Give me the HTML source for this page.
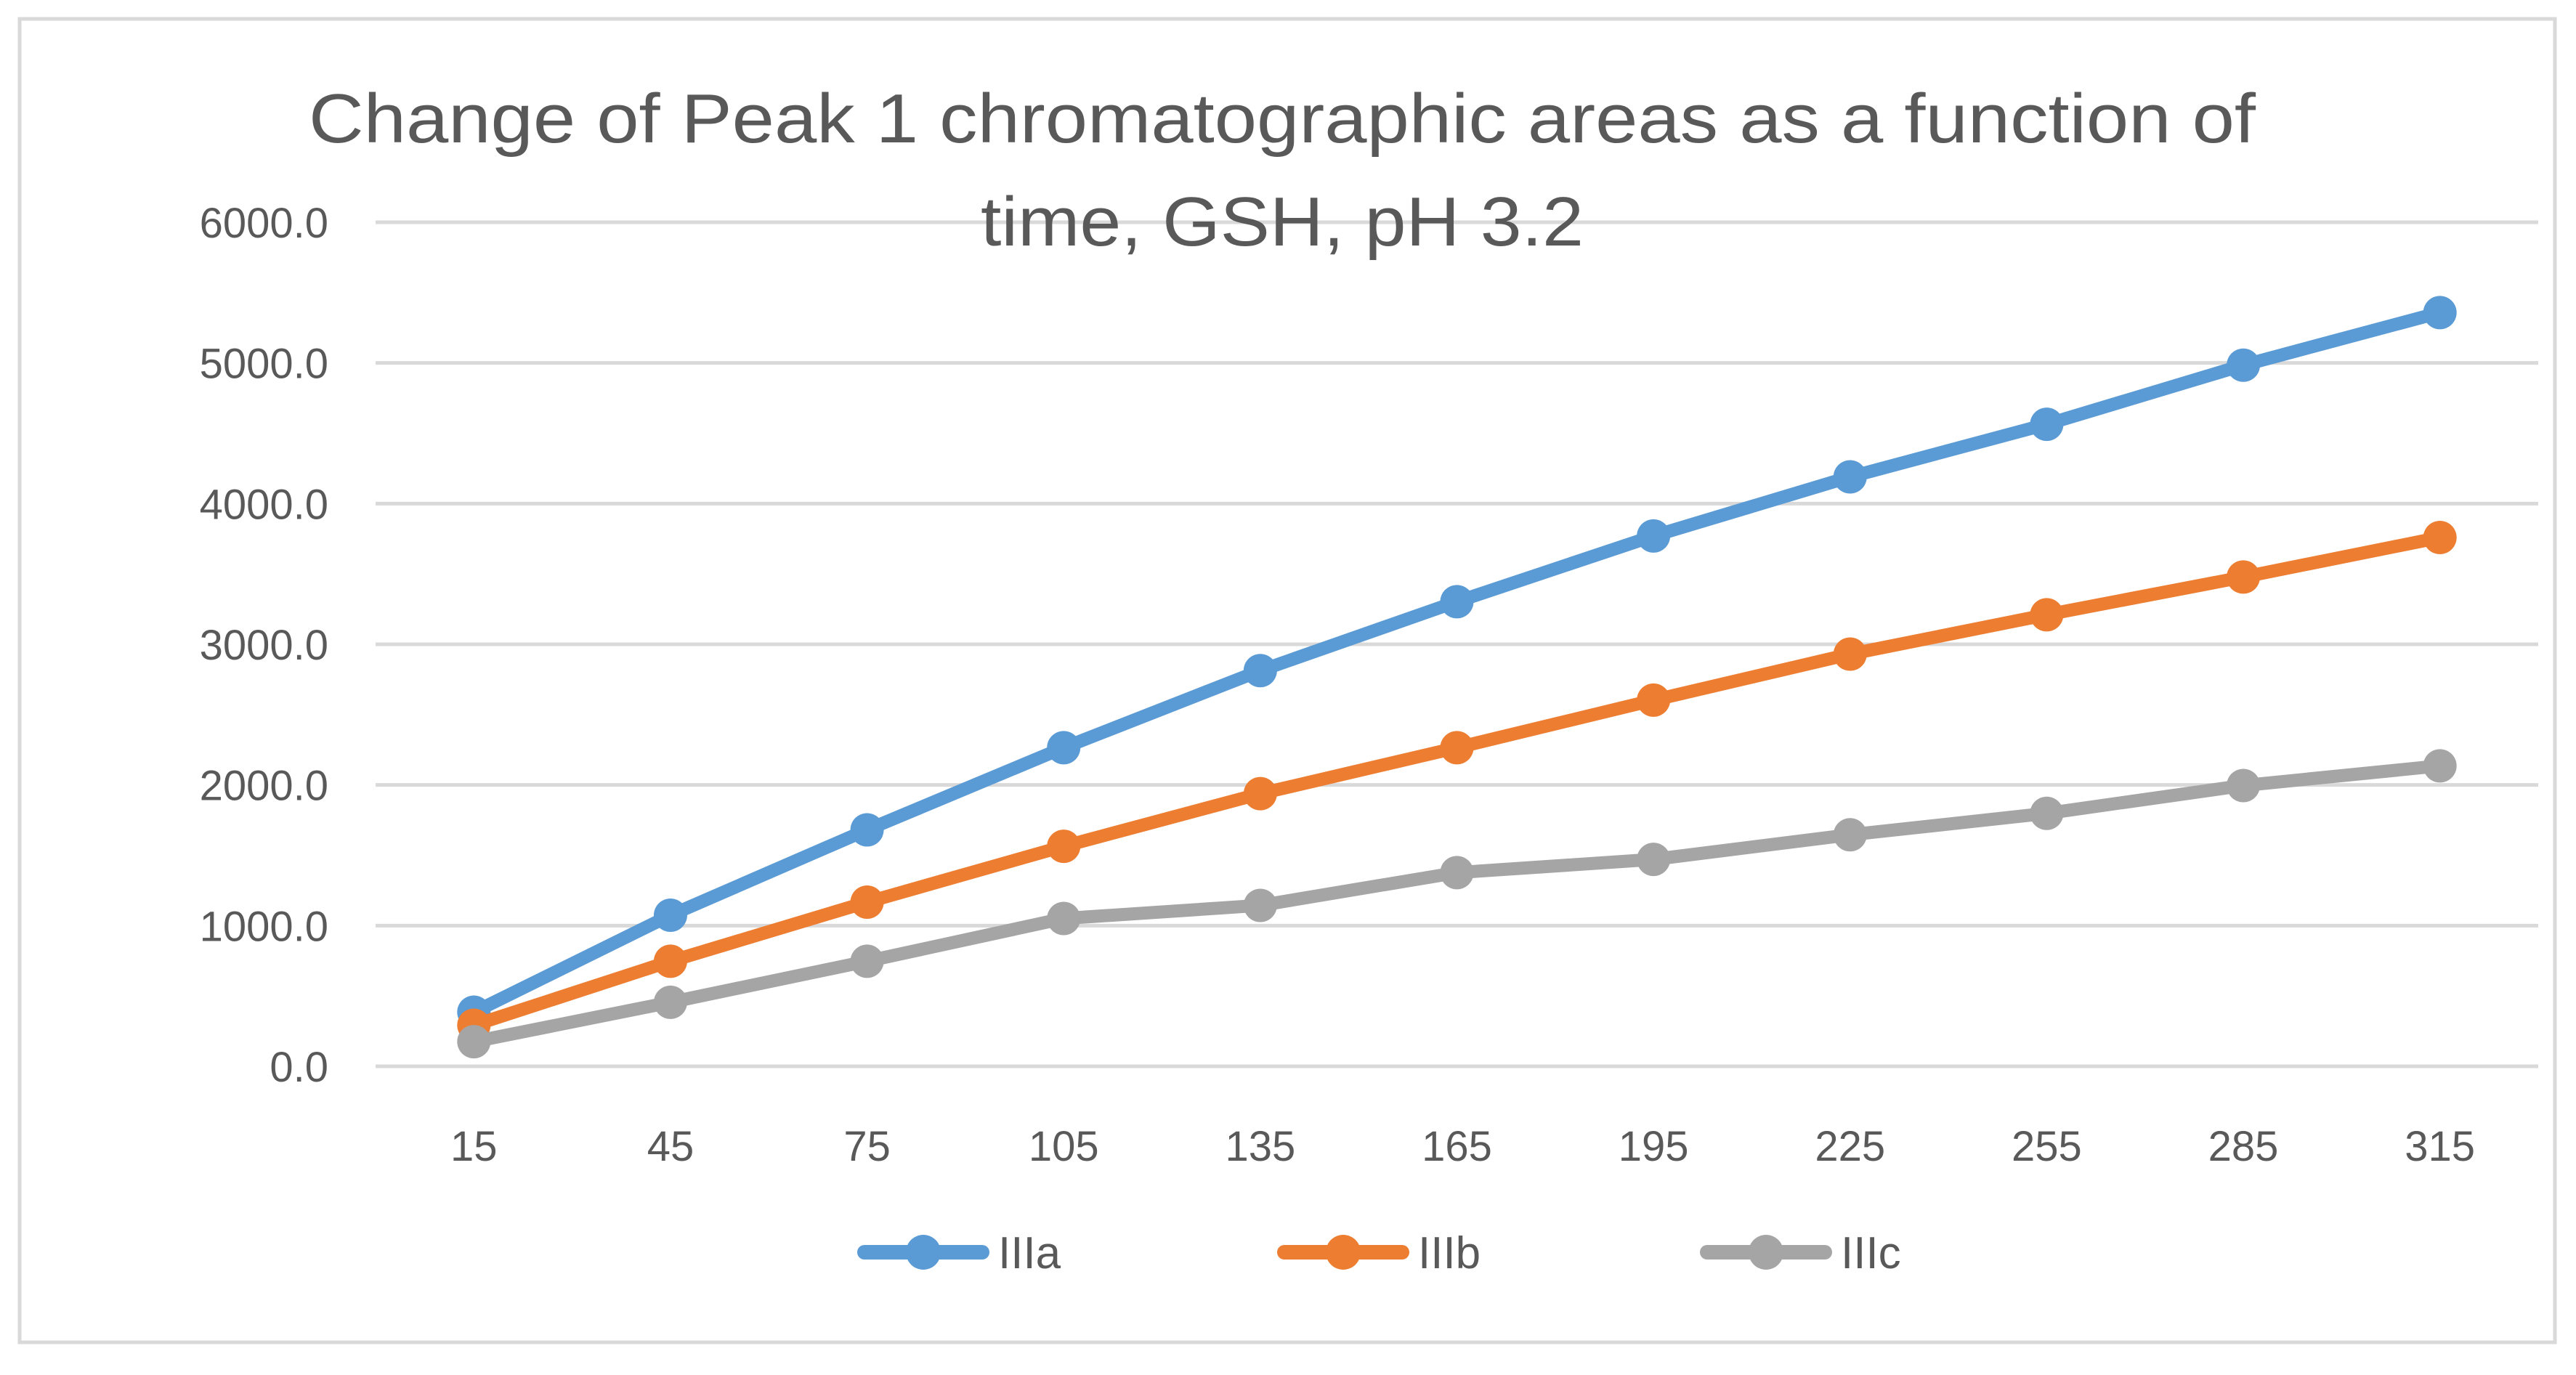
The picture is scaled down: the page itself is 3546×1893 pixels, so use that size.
<!DOCTYPE html>
<html><head><meta charset="utf-8"><style>
html,body{margin:0;padding:0;background:#fff;width:3546px;height:1893px;overflow:hidden}
svg text{font-family:"Liberation Sans",sans-serif;fill:#595959}
</style></head><body>
<svg id="chart" width="3546" height="1893" viewBox="0 0 3546 1893" xmlns="http://www.w3.org/2000/svg">
<rect x="27" y="26" width="3490" height="1822" fill="#fff" stroke="#d9d9d9" stroke-width="5"/>
<g id="grid"></g>
<g id="yticks"></g>
<g id="xticks"></g>
<g id="series"></g>
<text x="1765" y="196" text-anchor="middle" font-size="96" textLength="2680" lengthAdjust="spacingAndGlyphs">Change of Peak 1 chromatographic areas as a function of</text>
<text x="1765" y="338" text-anchor="middle" font-size="96" textLength="830" lengthAdjust="spacingAndGlyphs">time, GSH, pH 3.2</text>
<g id="legend"></g>
</svg>
<script>
const categories = [15,45,75,105,135,165,195,225,255,285,315];
const seriesNames = ["IIIa","IIIb","IIIc"];
const valuesA = [385,1074,1681,2265,2813,3303,3770,4190,4564,4984,5358];
const valuesB = [292,747,1167,1564,1938,2265,2603,2930,3210,3478,3759];
const valuesC = [175,455,747,1051,1144,1377,1471,1646,1798,1996,2136];
const yTicks = [0,1000,2000,3000,4000,5000,6000];
const yTickLabels = ["0.0","1000.0","2000.0","3000.0","4000.0","5000.0","6000.0"];

const colors = ["#5b9bd5","#ed7d31","#a5a5a5"];
const NS = "http://www.w3.org/2000/svg";
const L = 517, R = 3494, Y0 = 1468, Y6 = 306;
const band = (R - L) / categories.length;
const xs = i => L + band * (i + 0.5);
const ys = v => Y0 - (v / 6000) * (Y0 - Y6);
function mk(tag, attrs, parent){const e=document.createElementNS(NS,tag);for(const k in attrs)e.setAttribute(k,attrs[k]);parent.appendChild(e);return e;}

const grid=document.getElementById('grid'), yt=document.getElementById('yticks'), xt=document.getElementById('xticks');
yTicks.forEach((v,i)=>{
  const ln=mk('line',{x1:L,x2:R,y1:ys(v),y2:ys(v),stroke:'#d9d9d9','stroke-width':5},grid);
  
  
  const t=mk('text',{x:452,y:ys(v)+21,'text-anchor':'end','font-size':58},yt);
  t.textContent=yTickLabels[i];
  
  
});
categories.forEach((c,i)=>{
  const t=mk('text',{x:xs(i),y:1598,'text-anchor':'middle','font-size':58},xt);
  t.textContent=c;
  
  
});
const sg=document.getElementById('series');
[valuesA,valuesB,valuesC].forEach((vals,s)=>{
  const g=mk('g',{},sg);
  
  
  const pl=mk('polyline',{points:vals.map((v,i)=>xs(i)+','+ys(v)).join(' '),fill:'none',stroke:colors[s],'stroke-width':18,'stroke-linejoin':'round','stroke-linecap':'round'},g);
  
  
  vals.forEach((v,i)=>{
    const c=mk('circle',{cx:xs(i),cy:ys(v),r:23,fill:colors[s]},g);
    
    
  });
});
const lg=document.getElementById('legend');
const lx=[1182,1760,2342];
seriesNames.forEach((n,s)=>{
  const g=mk('g',{},lg);
  
  
  mk('line',{x1:lx[s]+8,x2:lx[s]+170,y1:1724,y2:1724,stroke:colors[s],'stroke-width':20,'stroke-linecap':'round'},g);
  mk('circle',{cx:lx[s]+89,cy:1724,r:24,fill:colors[s]},g);
  const t=mk('text',{x:lx[s]+192,y:1746,'font-size':62},g);
  t.textContent=n;
});
</script>
</body></html>
